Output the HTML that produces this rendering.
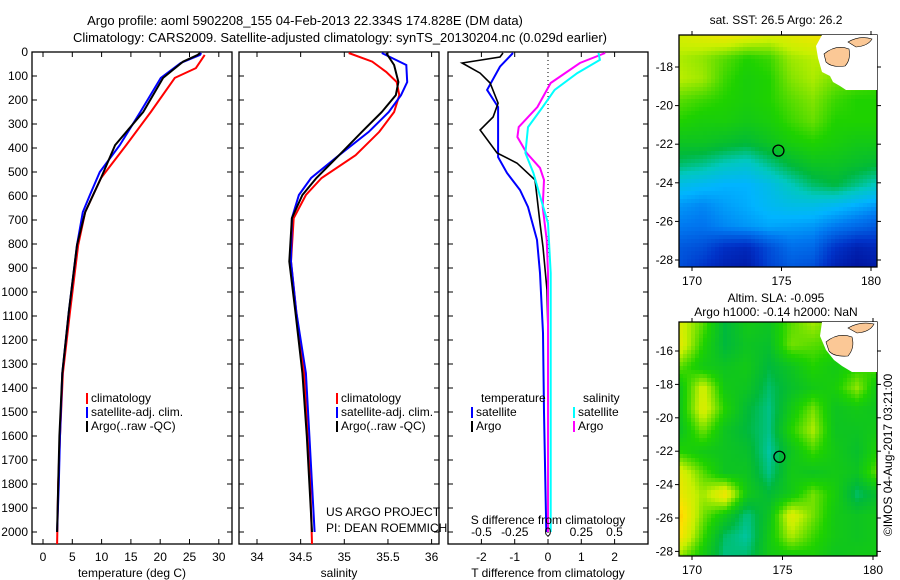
<!DOCTYPE html>
<html><head><meta charset="utf-8"><style>
body{margin:0;background:#fff}
svg{display:block;font-family:"Liberation Sans",sans-serif;font-size:12px}
</style></head><body>
<svg id="c" width="900" height="580" viewBox="0 0 900 580"></svg>
<script>
// ---- data ----
const depthTicks=[0,100,200,300,400,500,600,700,800,900,1000,1100,1200,1300,1400,1500,1600,1700,1800,1900,2000];
const tempTicks=[0,5,10,15,20,25,30];
const salTicks=[34,34.5,35,35.5,36];
const tdiffTicks=[-2,-1,0,1,2];
const sdiffTicks=[-0.5,-0.25,0,0.25,0.5];
const tempClimDepth=[12,67,108,250,388,525,667,804,1083,1338,1600,1800,2050];
const tempClim=[27.6,26.1,22.5,18.4,14.2,9.9,7.2,6.0,4.6,3.4,2.9,2.6,2.4];
const tempArgoDepth=[4,12,40,108,250,388,525,667,804,1083,1338,1600,1800,2000];
const tempArgo=[26.8,26.4,23.9,20.5,17.1,12.3,9.9,7.2,5.8,4.4,3.3,2.8,2.6,2.4];
const tempSatDepth=[4,12,46,108,250,388,500,596,667,804,1083,1338,1600,1800,2000];
const tempSat=[27.0,26.8,23.5,20.1,16.6,13.1,9.7,8.0,6.8,5.8,4.4,3.3,2.9,2.7,2.4];
const salClimDepth=[4,40,83,125,180,250,333,430,525,596,692,873,1083,1338,1600,1800,2050];
const salClim=[35.05,35.32,35.48,35.6,35.63,35.57,35.4,35.13,34.74,34.56,34.42,34.39,34.45,34.54,34.58,34.61,34.63];
const salDepth=[4,54,125,180,250,333,430,525,596,692,873,1083,1338,1600,1800,2000];
const salArgo=[35.48,35.57,35.62,35.59,35.43,35.2,34.94,34.68,34.52,34.4,34.37,34.44,34.52,34.57,34.6,34.63];
const salSat=[35.43,35.71,35.72,35.65,35.51,35.28,34.94,34.62,34.48,34.4,34.39,34.45,34.56,34.6,34.63,34.66];
const tdSatDepth=[4,61,158,229,367,438,504,575,646,783,921,1171,1500,2000];
const tdSat=[-1.05,-1.44,-1.83,-1.5,-1.5,-1.5,-1.23,-0.84,-0.6,-0.33,-0.24,-0.15,-0.12,-0.05];
const tdArgoDepth=[4,21,46,88,129,213,271,325,421,463,533,604,713,813,992,1171,2000];
const tdArgo=[-1.35,-1.44,-2.58,-2.04,-1.74,-1.5,-1.65,-2.04,-1.53,-0.93,-0.39,-0.33,-0.24,-0.15,-0.03,0,0];
const sdArgoDepth=[4,46,129,229,313,354,421,483,533,646,783,921,1171,2000];
const sdArgo=[0.43,0.24,0.02,-0.08,-0.22,-0.23,-0.16,-0.06,-0.03,-0.04,-0.01,0,0,0];
const sdSatDepth=[4,33,88,158,229,313,421,504,600,713,921,1171,2000];
const sdSat=[0.38,0.39,0.22,0.05,-0.04,-0.15,-0.17,-0.11,-0.06,0,0.02,0.02,0.02];
const lonTicks=[170,175,180];
const lat1Ticks=[-18,-20,-22,-24,-26,-28];
const lat2Ticks=[-16,-18,-20,-22,-24,-26,-28];
const argoLon=174.828, argoLat=-22.334;
const sstGrid=[
[.8,.82,.84,.82,.8,.82,.84,.86,.8,.8],
[.76,.74,.7,.66,.68,.75,.77,.78,.75,.75],
[.77,.75,.68,.64,.66,.73,.76,.72,.7,.68],
[.7,.68,.66,.64,.66,.7,.73,.68,.66,.66],
[.66,.64,.64,.62,.64,.68,.71,.66,.66,.66],
[.6,.6,.58,.56,.6,.64,.66,.64,.62,.62],
[.52,.5,.46,.44,.5,.56,.6,.6,.58,.56],
[.4,.38,.36,.36,.4,.46,.52,.55,.5,.45],
[.32,.3,.33,.35,.38,.4,.4,.38,.35,.32],
[.28,.27,.3,.32,.34,.33,.32,.28,.25,.22],
[.22,.2,.14,.12,.2,.26,.25,.15,.1,.12],
[.2,.15,.1,.08,.18,.22,.2,.1,.06,.08]];
const slaGrid=[
[.8,.7,.55,.62,.6,.7,.75,.7,.7,.7],
[.82,.66,.55,.6,.58,.72,.7,.68,.66,.66],
[.7,.62,.6,.62,.55,.6,.66,.62,.66,.7],
[.62,.8,.62,.6,.52,.58,.62,.64,.74,.6],
[.62,.82,.66,.56,.5,.62,.72,.6,.62,.6],
[.6,.72,.6,.55,.5,.66,.76,.6,.6,.62],
[.66,.62,.6,.58,.48,.6,.68,.62,.58,.66],
[.82,.7,.6,.6,.5,.62,.6,.62,.6,.72],
[.84,.75,.86,.62,.56,.62,.72,.64,.52,.58],
[.9,.72,.62,.5,.6,.82,.72,.62,.6,.62],
[.86,.68,.52,.48,.62,.76,.68,.62,.6,.62],
[.72,.62,.5,.52,.62,.62,.64,.6,.62,.62]];

// ---- helpers ----
const NS='http://www.w3.org/2000/svg', svg=document.getElementById('c');
function el(t,a,p){const e=document.createElementNS(NS,t);for(const k in a)e.setAttribute(k,a[k]);(p||svg).appendChild(e);return e;}
function txt(x,y,s,anchor,name,extra){const e=el('text',Object.assign({x:x,y:y,'text-anchor':anchor||'start',fill:'#000'},extra||{}));e.textContent=s;


return e;}
const yD=d=>52+d*0.24, TOP=52, BOT=544;
const xT=t=>43+t*5.86, xS=s=>257+(s-34)*87.3, xTD=t=>548+t*33.3, xSD=s=>548+s*133;

function panel(x0,x1,name){const r=el('rect',{x:x0,y:TOP,width:x1-x0,height:BOT-TOP,fill:'none',stroke:'#000','stroke-width':1.3});


depthTicks.forEach(d=>{el('line',{x1:x0,x2:x0+5,y1:yD(d),y2:yD(d),stroke:'#000'});el('line',{x1:x1-5,x2:x1,y1:yD(d),y2:yD(d),stroke:'#000'});});}
function line(xs,ds,fx,color,name,w){const pts=xs.map((v,i)=>fx(v).toFixed(1)+','+yD(ds[i]).toFixed(1)).join(' ');
const p=el('polyline',{points:pts,fill:'none',stroke:color,'stroke-width':w||2});

}
function legend(x,y,color,label,name){el('line',{x1:x,x2:x,y1:y-9,y2:y+2,stroke:color,'stroke-width':2});txt(x+4,y,label,'start',name);}

// titles
txt(305,25,'Argo profile: aoml 5902208_155 04-Feb-2013 22.334S 174.828E (DM data)','middle','title-line-1',{'font-size':'13px'});
txt(340,42,'Climatology: CARS2009. Satellite-adjusted climatology: synTS_20130204.nc (0.029d earlier)','middle','title-line-2',{'font-size':'13px'});

// panel 1 temperature
panel(32,232,'temperature-panel');
depthTicks.forEach(d=>txt(28,yD(d)+4,String(d),'end','depth-tick-label'));
tempTicks.forEach(t=>{el('line',{x1:xT(t),x2:xT(t),y1:TOP,y2:TOP+5,stroke:'#000'});el('line',{x1:xT(t),x2:xT(t),y1:BOT-5,y2:BOT,stroke:'#000'});txt(xT(t),561,String(t),'middle','temperature-tick-label');});
txt(132,577,'temperature (deg C)','middle','temperature-axis-title');
line(tempClim,tempClimDepth,xT,'#f00','temp-climatology-line');
line(tempSat,tempSatDepth,xT,'#00f','temp-satellite-line');
line(tempArgo,tempArgoDepth,xT,'#000','temp-argo-line');
legend(87,402,'#f00','climatology','legend-climatology');
legend(87,416,'#00f','satellite-adj. clim.','legend-satellite');
legend(87,430,'#000','Argo(..raw -QC)','legend-argo');

// panel 2 salinity
panel(239,439,'salinity-panel');
salTicks.forEach(s=>{el('line',{x1:xS(s),x2:xS(s),y1:TOP,y2:TOP+5,stroke:'#000'});el('line',{x1:xS(s),x2:xS(s),y1:BOT-5,y2:BOT,stroke:'#000'});txt(xS(s),561,String(s),'middle','salinity-tick-label');});
txt(339,577,'salinity','middle','salinity-axis-title');
line(salClim,salClimDepth,xS,'#f00','sal-climatology-line');
line(salSat,salDepth,xS,'#00f','sal-satellite-line');
line(salArgo,salDepth,xS,'#000','sal-argo-line');
legend(337,402,'#f00','climatology','legend-climatology-2');
legend(337,416,'#00f','satellite-adj. clim.','legend-satellite-2');
legend(337,430,'#000','Argo(..raw -QC)','legend-argo-2');
txt(326,516,'US ARGO PROJECT','start','project-label');
txt(326,532,'PI: DEAN ROEMMICH','start','pi-label');

// panel 3 differences
panel(448,648,'difference-panel');
el('line',{x1:548,x2:548,y1:TOP,y2:BOT,stroke:'#000','stroke-dasharray':'1,3'});
tdiffTicks.forEach(t=>{el('line',{x1:xTD(t),x2:xTD(t),y1:TOP,y2:TOP+5,stroke:'#000'});el('line',{x1:xTD(t),x2:xTD(t),y1:BOT-5,y2:BOT,stroke:'#000'});txt(xTD(t),561,String(t),'middle','tdiff-tick-label');});
line(tdSat,tdSatDepth,xTD,'#00f','tdiff-satellite-line');
line(tdArgo,tdArgoDepth,xTD,'#000','tdiff-argo-line',1.6);
line(sdArgo,sdArgoDepth,xSD,'#f0f','sdiff-argo-line');
line(sdSat,sdSatDepth,xSD,'#0ff','sdiff-satellite-line');
sdiffTicks.forEach(s=>txt(xSD(s),536,String(s),'middle','sdiff-tick-label'));
txt(548,524,'S difference from climatology','middle','sdiff-axis-title');
txt(548,577,'T difference from climatology','middle','tdiff-axis-title');
txt(481,402,'temperature','start','legend-temperature-header');
txt(583,402,'salinity','start','legend-salinity-header');
legend(472,416,'#00f','satellite','legend-t-satellite');
legend(472,430,'#000','Argo','legend-t-argo');
legend(574,416,'#0ff','satellite','legend-s-satellite');
legend(574,430,'#f0f','Argo','legend-s-argo');

// colormap
const stops=[[0,[0,0,130]],[.15,[0,50,200]],[.28,[0,120,240]],[.36,[0,180,255]],[.46,[0,200,190]],[.55,[0,185,60]],[.66,[30,210,0]],[.78,[200,240,0]],[.88,[255,225,0]],[1,[255,150,0]]];
function cmap(v){v=Math.max(0,Math.min(1,v));for(let i=1;i<stops.length;i++){if(v<=stops[i][0]){const a=stops[i-1],b=stops[i],f=(v-a[0])/(b[0]-a[0]);return 'rgb('+a[1].map((c,k)=>Math.round(c+(b[1][k]-c)*f)).join(',')+')';}}return 'rgb(255,150,0)';}
function bil(g,fx,fy){const R=g.length-1,C=g[0].length-1;const x=fx*C,y=fy*R;const i=Math.min(Math.floor(y),R-1),j=Math.min(Math.floor(x),C-1);const u=x-j,v=y-i;
return g[i][j]*(1-u)*(1-v)+g[i][j+1]*u*(1-v)+g[i+1][j]*(1-u)*v+g[i+1][j+1]*u*v;}
function map(x0,y0,x1,y1,grid,lon2x,lat2y,latTicks,name,cell){
const gp=el('g',{});


for(let y=y0;y<y1;y+=cell)for(let x=x0;x<x1;x+=cell){el('rect',{x:x,y:y,width:Math.min(cell,x1-x),height:Math.min(cell,y1-y),fill:cmap(bil(grid,(x-x0)/(x1-x0),(y-y0)/(y1-y0)))},gp);}
el('rect',{x:x0,y:y0,width:x1-x0,height:y1-y0,fill:'none',stroke:'#000','stroke-width':1.3});
lonTicks.forEach(l=>{el('line',{x1:lon2x(l),x2:lon2x(l),y1:y0,y2:y0-4,stroke:'#000'});el('line',{x1:lon2x(l),x2:lon2x(l),y1:y1,y2:y1+4,stroke:'#000'});txt(lon2x(l),y1+18,String(l),'middle','longitude-tick-label');});
latTicks.forEach(l=>{el('line',{x1:x0,x2:x0-4,y1:lat2y(l),y2:lat2y(l),stroke:'#000'});el('line',{x1:x1,x2:x1+4,y1:lat2y(l),y2:lat2y(l),stroke:'#000'});txt(x0-6,lat2y(l)+4,String(l),'end','latitude-tick-label');});
const c=el('circle',{cx:lon2x(argoLon),cy:lat2y(argoLat),r:5.5,fill:'none',stroke:'#000','stroke-width':1.3});


}
// map1
map(679,35,877,267,sstGrid,l=>692+(l-170)*17.9,l=>67+(-18-l)*19.3,lat1Ticks,'sst-map',4);
el('path',{d:'M822,35 L877,35 L877,90 L846,90 L840,86 L833,82 L830,76 L822,72 L818,58 L816,46 Z',fill:'#fff'});
el('path',{d:'M824,54 Q836,44 849,49 Q851,60 845,66 Q832,68 826,62 Z',fill:'#fbc896',stroke:'#000','stroke-width':0.6});
el('path',{d:'M848,42 Q860,35 872,39 Q868,46 856,47 Z',fill:'#fbc896',stroke:'#000','stroke-width':0.6});
txt(776,24,'sat. SST: 26.5 Argo: 26.2','middle','sst-map-title');
// map2
map(679,322,877,556,slaGrid,l=>692+(l-170)*18.1,l=>351+(-16-l)*16.7,lat2Ticks,'sla-map',4);
el('path',{d:'M822,322 L877,322 L877,372 L852,372 L842,366 L834,360 L826,350 L820,336 Z',fill:'#fff'});
el('path',{d:'M826,342 Q838,332 852,337 Q855,348 848,356 Q834,357 829,351 Z',fill:'#fbc896',stroke:'#000','stroke-width':0.6});
el('path',{d:'M848,328 Q860,321 874,324 Q870,332 857,333 Z',fill:'#fbc896',stroke:'#000','stroke-width':0.6});
txt(776,302,'Altim. SLA: -0.095','middle','sla-map-title');
txt(776,316,'Argo h1000: -0.14 h2000: NaN','middle','sla-map-subtitle');
txt(0,0,'©IMOS 04-Aug-2017 03:21:00','middle','imos-credit',{transform:'translate(892,455) rotate(-90)'});
</script>
</body></html>
